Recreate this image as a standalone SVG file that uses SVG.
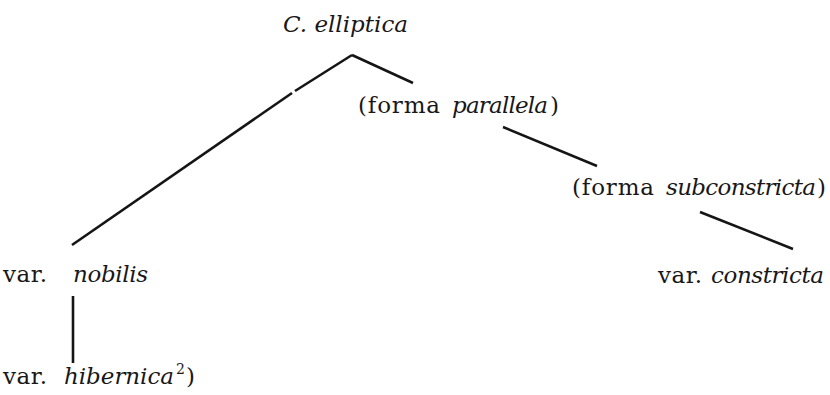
<svg xmlns="http://www.w3.org/2000/svg" width="830" height="395" viewBox="0 0 830 395">
<style>
text{font-family:"DejaVu Serif","Liberation Serif",serif;font-size:23px;fill:#181818}
.i{font-style:italic}
.sup{font-size:14px}
line{stroke:#151515;stroke-width:2.6;stroke-linecap:butt}
</style>
<rect width="830" height="395" fill="#ffffff"/>
<g id="connectors">
<line x1="352" y1="55" x2="295" y2="91"/>
<line x1="292" y1="93" x2="72" y2="245"/>
<line x1="352" y1="55" x2="413" y2="83"/>
<line x1="503" y1="127" x2="597" y2="166"/>
<line x1="700" y1="212" x2="793" y2="249"/>
<line x1="73" y1="296" x2="73" y2="363"/>
</g>
<g id="elliptica"><text x="283" y="32" class="i" textLength="125" lengthAdjust="spacing">C. elliptica</text></g>
<g id="parallela">
<text x="358" y="113" textLength="82" lengthAdjust="spacing">(forma</text>
<text x="452" y="113" class="i" textLength="96" lengthAdjust="spacing">parallela</text>
<text x="550" y="113">)</text>
</g>
<g id="subconstricta">
<text x="572" y="195" textLength="82" lengthAdjust="spacing">(forma</text>
<text x="666" y="195" class="i" textLength="150" lengthAdjust="spacing">subconstricta</text>
<text x="817" y="195">)</text>
</g>
<g id="nobilis">
<text x="3" y="282" textLength="44" lengthAdjust="spacing">var.</text>
<text x="73" y="282" class="i" textLength="75" lengthAdjust="spacing">nobilis</text>
</g>
<g id="constricta">
<text x="658" y="283" textLength="44" lengthAdjust="spacing">var.</text>
<text x="711" y="283" class="i" textLength="113" lengthAdjust="spacing">constricta</text>
</g>
<g id="hibernica">
<text x="3" y="384" textLength="44" lengthAdjust="spacing">var.</text>
<text x="64" y="384" class="i" textLength="110" lengthAdjust="spacing">hibernica</text>
<text x="176" y="374" class="sup">2</text>
<text x="186" y="384">)</text>
</g>
</svg>
